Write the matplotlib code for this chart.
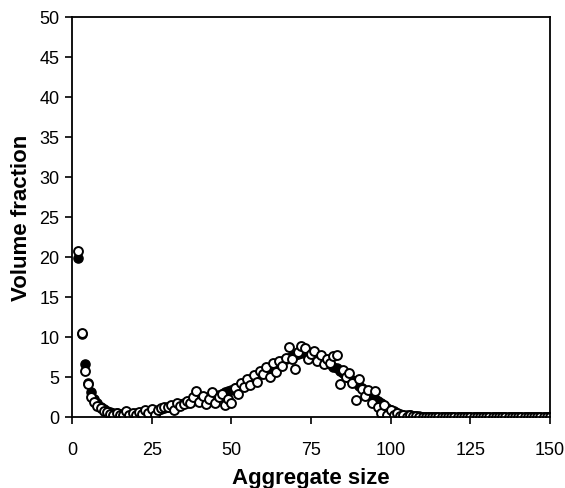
import numpy as np
import matplotlib.pyplot as plt

# aggregate sizes 2..150
sizes = np.arange(2, 151)

filled = [
    19.9, 10.4, 6.6, 4.2, 3.1, 2.3, 1.7, 1.3, 1.0, 0.8,
    0.6, 0.5, 0.5, 0.4, 0.4, 0.4, 0.4, 0.4, 0.5, 0.5,
    0.6, 0.6, 0.7, 0.8, 0.8, 0.9, 1.0, 1.1, 1.2, 1.3,
    1.4, 1.5, 1.6, 1.7, 1.8, 1.9, 2.0, 2.1, 2.2, 2.3,
    2.4, 2.5, 2.6, 2.7, 2.8, 2.9, 3.1, 3.2, 3.4, 3.6,
    3.8, 4.0, 4.2, 4.4, 4.7, 4.9, 5.1, 5.4, 5.6, 5.8,
    6.1, 6.3, 6.5, 6.8, 7.0, 7.2, 7.4, 7.6, 7.8, 7.9,
    8.0, 8.0, 7.9, 7.8, 7.6, 7.4, 7.2, 7.0, 6.8, 6.6,
    6.3, 6.1, 5.8, 5.5, 5.2, 4.9, 4.6, 4.2, 3.9, 3.6,
    3.2, 2.9, 2.6, 2.3, 2.0, 1.7, 1.4, 1.1, 0.9, 0.7,
    0.5, 0.4, 0.3, 0.25, 0.2, 0.15, 0.1, 0.08, 0.06, 0.05,
    0.04, 0.03, 0.02, 0.01, 0, 0, 0, 0, 0, 0,
    0, 0, 0, 0, 0, 0, 0, 0, 0, 0,
    0, 0, 0, 0, 0, 0, 0, 0, 0, 0,
    0, 0, 0, 0, 0, 0, 0, 0, 0,
]

hollow = [
    20.8, 10.5, 5.8, 4.1, 2.5, 1.9, 1.4, 1.1, 0.8, 0.6,
    0.4, 0.3, 0.5, 0.2, 0.3, 0.7, 0.3, 0.5, 0.2, 0.6,
    0.4, 0.9, 0.5, 1.0, 0.3, 0.9, 1.1, 1.3, 1.2, 1.5,
    0.9, 1.7, 1.4, 1.6, 2.0, 1.7, 2.5, 3.2, 1.9, 2.6,
    1.6, 2.3, 3.1, 1.8, 2.5, 2.9, 1.5, 2.2, 1.8, 3.6,
    2.9, 4.3, 3.8, 4.8, 4.0, 5.2, 4.4, 5.8, 5.4, 6.3,
    5.0, 6.7, 5.6, 7.0, 6.4, 7.4, 8.7, 7.3, 6.0, 8.1,
    8.9, 8.6, 7.2, 7.9, 8.2, 7.0, 7.8, 6.6, 7.3, 6.8,
    7.6, 7.7, 4.1, 5.9, 5.0, 5.5, 4.3, 2.1, 4.7, 3.5,
    2.6, 3.4, 1.7, 3.3, 1.2, 0.5, 1.5, 0.3, 0.9, 0.2,
    0.5, 0.1, 0.3, 0.0, 0.2, 0.1, 0.1, 0.05, 0.05, 0,
    0, 0, 0, 0, 0, 0, 0, 0, 0, 0,
    0, 0, 0, 0, 0, 0, 0, 0, 0, 0,
    0, 0, 0, 0, 0, 0, 0, 0, 0, 0,
    0, 0, 0, 0, 0, 0, 0, 0, 0,
]

plt.rcParams['font.family'] = ['Liberation Sans', 'DejaVu Sans']

fig = plt.figure(figsize=(5.65, 4.89), dpi=100)
ax = fig.add_axes([0.1274, 0.1452, 0.8461, 0.8180])

ax.plot(sizes, filled, 'o', color='black', markersize=6.6, markeredgewidth=1.0)
ax.plot(sizes, hollow, 'o', markerfacecolor='white', markeredgecolor='black',
        markersize=6.4, markeredgewidth=1.4)

ax.set_xlim(0, 150)
ax.set_ylim(0, 50)
ax.set_xticks(range(0, 151, 25))
ax.set_yticks(range(0, 51, 5))
ax.tick_params(direction='out', length=5, width=1.2, labelsize=13, pad=12)
ax.tick_params(axis='y', pad=4)
for s in ax.spines.values():
    s.set_linewidth(1.3)

ax.set_xlabel('Aggregate size', fontsize=16, fontweight='bold', labelpad=7)
ax.set_ylabel('Volume fraction', fontsize=16, fontweight='bold', labelpad=5)

fig.savefig('out.png', dpi=100)
